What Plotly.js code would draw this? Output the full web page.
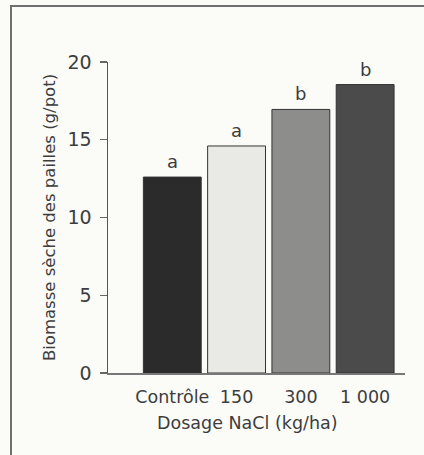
<!DOCTYPE html>
<html>
<head>
<meta charset="utf-8">
<script src="https://cdn.plot.ly/plotly-3.0.1.min.js"></script>
<style>
html,body{margin:0;padding:0;background:#fbfbf8;}
#chart{width:424px;height:455px;}
</style>
</head>
<body>
<div id="chart"></div>
<script>
const categories = ["Contrôle", "150", "300", "1 000"];
const biomass = [12.6, 14.6, 16.95, 18.55];
const letters = ["a", "a", "b", "b"];
const barColors = ["#2b2b2b", "#e9e9e5", "#8d8d8b", "#4b4b4b"];
const yTicks = [0, 5, 10, 15, 20];
const xTitle = "Dosage NaCl (kg/ha)";
const yTitle = "Biomasse sèche des pailles (g/pot)";

const font = "DejaVu Sans, sans-serif";
const textColor = "#3d3d3d";

const L = 108, R = 405, T = 62, B = 373, W = 424, H = 455;
const px2x = p => (p - L) / (R - L);
const px2y = p => (B - p) / (B - T);

const trace = {
  type: "bar",
  x: categories,
  y: biomass,
  width: 0.9,
  marker: {color: barColors, line: {color: "#333", width: 1}},
  hoverinfo: "none"
};

const annotations = categories.map((c, i) => ({
  x: i, y: biomass[i], xref: "x", yref: "y",
  text: letters[i], showarrow: false, yanchor: "bottom", yshift: 3,
  font: {family: font, size: 18, color: textColor}
}));
annotations.push({
  xref: "paper", yref: "paper", x: px2x(247), y: px2y(423),
  text: xTitle, showarrow: false, xanchor: "center", yanchor: "middle",
  font: {family: font, size: 17.5, color: textColor}
});

const layout = {
  width: W, height: H,
  margin: {l: L, r: W - R, t: T, b: H - B, pad: 0},
  paper_bgcolor: "#fbfbf8",
  plot_bgcolor: "#fbfbf8",
  showlegend: false,
  font: {family: font, size: 17, color: textColor},
  xaxis: {
    type: "category",
    range: [-1, 3.62],
    showline: true, linecolor: "#777", linewidth: 1.5,
    ticks: "", showgrid: false, zeroline: false,
    tickfont: {family: font, size: 17.5, color: textColor},
    ticklabelstandoff: 7,
    fixedrange: true
  },
  yaxis: {
    range: [0, 20],
    tickvals: yTicks,
    showline: true, linecolor: "#555", linewidth: 1.5,
    ticks: "outside", ticklen: 7, tickcolor: "#666", tickwidth: 1.2,
    showgrid: false, zeroline: false,
    tickfont: {family: font, size: 19, color: textColor},
    ticklabelstandoff: 4,
    title: {text: yTitle, font: {family: font, size: 16.5, color: textColor}, standoff: 7},
    fixedrange: true
  },
  annotations: annotations,
  shapes: [{
    type: "path", xref: "paper", yref: "paper",
    path: `M ${px2x(11)} ${px2y(460)} L ${px2x(11)} ${px2y(6)} L ${px2x(430)} ${px2y(6)}`,
    line: {color: "#6f6f6f", width: 2}
  }]
};

Plotly.newPlot("chart", [trace], layout, {displayModeBar: false, staticPlot: true});
</script>
</body>
</html>
